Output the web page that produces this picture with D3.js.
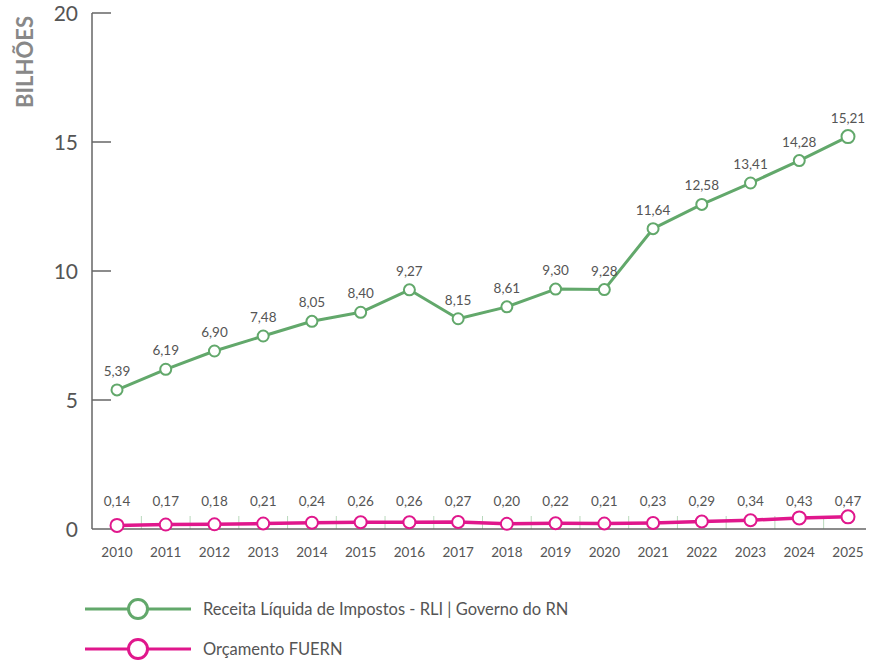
<!DOCTYPE html>
<html>
<head>
<meta charset="utf-8">
<script src="https://cdn.jsdelivr.net/npm/d3@7"></script>
<style>
  body { margin: 0; background: #fff; }
  text { font-family: Lato, "Open Sans", sans-serif; }
</style>
</head>
<body>
<svg id="chart" width="872" height="660"></svg>
<script>
var years = ["2010","2011","2012","2013","2014","2015","2016","2017","2018","2019","2020","2021","2022","2023","2024","2025"];
var rli = [5.39, 6.19, 6.90, 7.48, 8.05, 8.40, 9.27, 8.15, 8.61, 9.30, 9.28, 11.64, 12.58, 13.41, 14.28, 15.21];
var fuern = [0.14, 0.17, 0.18, 0.21, 0.24, 0.26, 0.26, 0.27, 0.20, 0.22, 0.21, 0.23, 0.29, 0.34, 0.43, 0.47];
var yTicks = [0, 5, 10, 15, 20];
var legendLabels = ["Receita Líquida de Impostos - RLI | Governo do RN", "Orçamento FUERN"];

var green = "#62a86b", pink = "#e0178c", grey = "#666", textCol = "#555";

var svg = d3.select("#chart");
var plotLeft = 92, plotRight = 866, plotTop = 13, plotBottom = 529;

var x = d3.scalePoint().domain(years).range([117, 848]);
var y = d3.scaleLinear().domain([0, 20]).range([plotBottom, plotTop]);
var fmt = function(v) { return d3.format(".2f")(v).replace(".", ","); };

// y axis
svg.append("line")
    .attr("x1", plotLeft).attr("x2", plotLeft)
    .attr("y1", plotTop).attr("y2", plotBottom)
    .attr("stroke", grey).attr("stroke-width", 1.5);

svg.selectAll(".ytick")
  .data(yTicks.filter(function(d) { return d > 0; }))
  .enter().append("line")
    .attr("x1", plotLeft).attr("x2", plotLeft + 19)
    .attr("y1", function(d) { return y(d); })
    .attr("y2", function(d) { return y(d); })
    .attr("stroke", grey).attr("stroke-width", 1.5);

svg.selectAll(".ylab")
  .data(yTicks)
  .enter().append("text")
    .attr("x", 78)
    .attr("y", function(d) { return y(d); })
    .attr("dy", "0.36em")
    .attr("text-anchor", "end")
    .attr("font-size", 21)
    .attr("fill", textCol)
    .text(function(d) { return d; });

svg.append("text")
    .attr("transform", "translate(33,62) rotate(-90)")
    .attr("text-anchor", "middle")
    .attr("font-family", "'Liberation Sans', Arial, sans-serif")
    .attr("font-size", 22)
    .attr("font-weight", "bold")
    .attr("fill", "#888")
    .text("BILHÕES");

// x axis
var step = x.step();
svg.selectAll(".xtick")
  .data(years.slice(0, -1))
  .enter().append("line")
    .attr("x1", function(d) { return x(d) + step / 2; })
    .attr("x2", function(d) { return x(d) + step / 2; })
    .attr("y1", plotBottom - 13).attr("y2", plotBottom)
    .attr("stroke", "#b9d8bc").attr("stroke-width", 1);

svg.append("line")
    .attr("x1", plotLeft).attr("x2", plotRight)
    .attr("y1", plotBottom).attr("y2", plotBottom)
    .attr("stroke", grey).attr("stroke-width", 1.5);

svg.selectAll(".xlab")
  .data(years)
  .enter().append("text")
    .attr("x", function(d) { return x(d); })
    .attr("y", 557)
    .attr("text-anchor", "middle")
    .attr("font-size", 13.5)
    .attr("fill", textCol)
    .text(function(d) { return d; });

// series
function drawSeries(vals, color, width, r, labelY) {
  var line = d3.line()
      .x(function(d, i) { return x(years[i]); })
      .y(function(d) { return y(d); });
  svg.append("path")
      .datum(vals)
      .attr("d", line)
      .attr("fill", "none")
      .attr("stroke", color)
      .attr("stroke-width", width)
      .attr("stroke-linejoin", "round");
  svg.append("g").selectAll("circle")
    .data(vals)
    .enter().append("circle")
      .attr("cx", function(d, i) { return x(years[i]); })
      .attr("cy", function(d) { return y(d); })
      .attr("r", function(d, i) { return r(i); })
      .attr("fill", "#fff")
      .attr("stroke", color)
      .attr("stroke-width", 2);
  svg.append("g").selectAll("text")
    .data(vals)
    .enter().append("text")
      .attr("x", function(d, i) { return x(years[i]); })
      .attr("y", labelY)
      .attr("text-anchor", "middle")
      .attr("font-size", 13.5)
      .attr("fill", textCol)
      .text(fmt);
}

drawSeries(rli, green, 3, function(i) { return i === rli.length - 1 ? 6.5 : 5.5; },
  function(d) { return y(d) - 14; });
drawSeries(fuern, pink, 3.5, function(i) { return (i === 0 || i >= 14) ? 6.5 : 6; },
  function() { return y(0) - 23; });

// legend
var legend = svg.append("g").selectAll("g")
  .data(legendLabels)
  .enter().append("g")
    .attr("transform", function(d, i) { return "translate(0," + (609 + i * 40) + ")"; });

legend.append("line")
    .attr("x1", 85).attr("x2", 191)
    .attr("stroke", function(d, i) { return i === 0 ? green : pink; })
    .attr("stroke-width", 3);
legend.append("circle")
    .attr("cx", 138).attr("r", 9.5)
    .attr("fill", "#fff")
    .attr("stroke", function(d, i) { return i === 0 ? green : pink; })
    .attr("stroke-width", 3);
legend.append("text")
    .attr("x", 203)
    .attr("dy", "0.35em")
    .attr("font-size", 16.5)
    .attr("fill", textCol)
    .text(function(d) { return d; });
</script>
</body>
</html>
